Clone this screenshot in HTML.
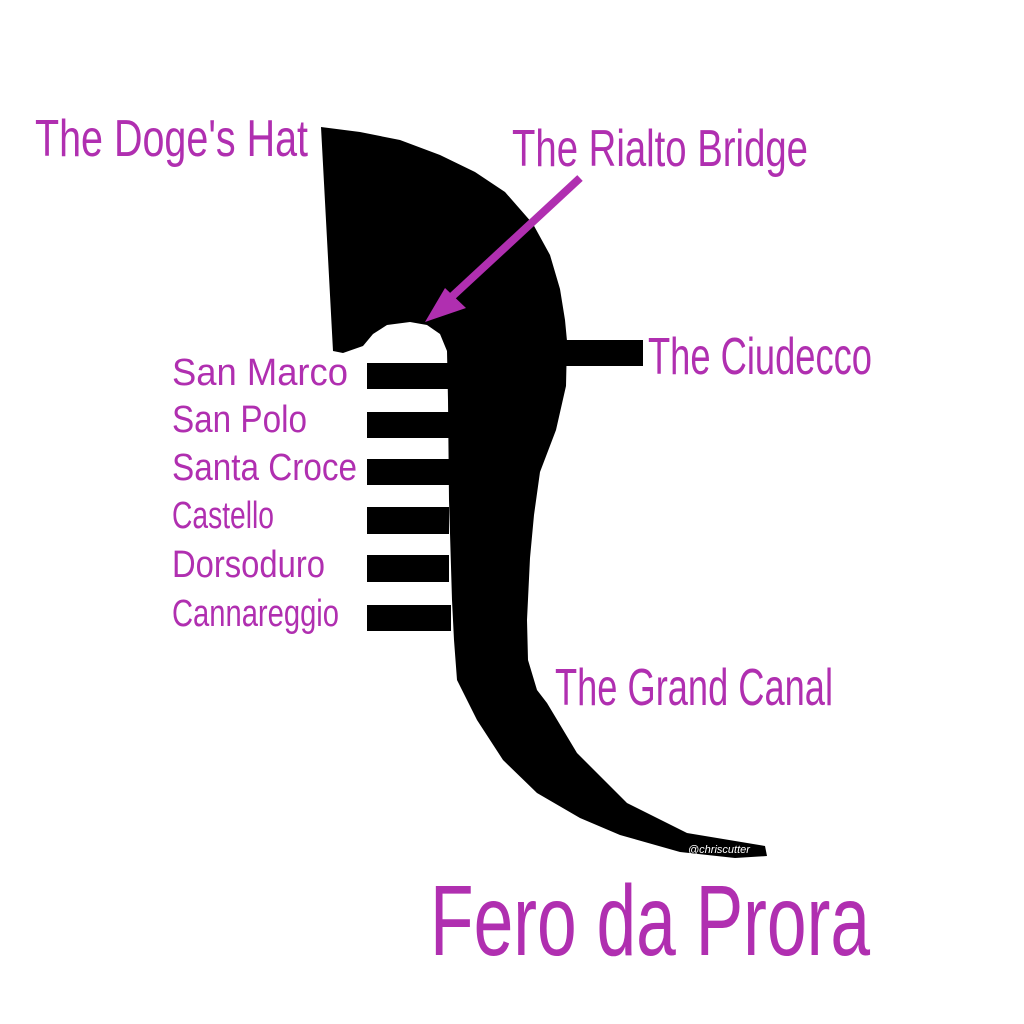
<!DOCTYPE html>
<html><head><meta charset="utf-8"><style>
html,body{margin:0;padding:0;background:#fff;}
svg{display:block;}
text{font-family:"Liberation Sans",sans-serif;fill:#b02fb0;}
</style></head><body>
<svg width="1024" height="1024" viewBox="0 0 1024 1024" xmlns="http://www.w3.org/2000/svg">
<rect width="1024" height="1024" fill="#fff"/>
<path d="M321,127 L360,132 L400,140 L440,155 L475,172 L505,192 L533,224 L550,255 L560,289 L565,320 L567,341 L566,386 L556,430 L540,472 L534,515 L530,558 L527,620 L528,660 L537,690 L547,703 L577,753 L627,803 L687,833 L765,846 L767,856 L735,858 L680,852 L620,835 L580,818 L537,793 L503,760 L477,720 L457,680 L454,640 L452,600 L449,500 L448,400 L447,351 L440,334 L427,325 L410,322 L387,325 L373,334 L363,346 L343,353 L333,351 Z" fill="#000"/>
<g fill="#000">
<rect x="367" y="363" width="82" height="26"/>
<rect x="367" y="412" width="82" height="26"/>
<rect x="367" y="459" width="82" height="26"/>
<rect x="367" y="507" width="82" height="27"/>
<rect x="367" y="555" width="82" height="27"/>
<rect x="367" y="605" width="84" height="26"/>
<rect x="560" y="340" width="83" height="26"/>
</g>
<line x1="580" y1="178" x2="445" y2="303" stroke="#b02fb0" stroke-width="8"/>
<polygon points="425,322 445,288 466,308" fill="#b02fb0"/>
<text x="688" y="853" font-size="11" fill="#fff" style="fill:#fff;font-style:italic">@chriscutter</text>
<text x="35" y="156" font-size="52" textLength="273" lengthAdjust="spacingAndGlyphs">The Doge's Hat</text>
<text x="512" y="166" font-size="52" textLength="296" lengthAdjust="spacingAndGlyphs">The Rialto Bridge</text>
<text x="648" y="374" font-size="52" textLength="224" lengthAdjust="spacingAndGlyphs">The Ciudecco</text>
<text x="555" y="705" font-size="52" textLength="278" lengthAdjust="spacingAndGlyphs">The Grand Canal</text>
<g font-size="38">
<text x="172" y="385" textLength="176" lengthAdjust="spacingAndGlyphs">San Marco</text>
<text x="172" y="432" textLength="135" lengthAdjust="spacingAndGlyphs">San Polo</text>
<text x="172" y="480" textLength="185" lengthAdjust="spacingAndGlyphs">Santa Croce</text>
<text x="172" y="528" textLength="102" lengthAdjust="spacingAndGlyphs">Castello</text>
<text x="172" y="577" textLength="153" lengthAdjust="spacingAndGlyphs">Dorsoduro</text>
<text x="172" y="626" textLength="167" lengthAdjust="spacingAndGlyphs">Cannareggio</text>
</g>
<text x="430" y="955" font-size="100" textLength="440" lengthAdjust="spacingAndGlyphs">Fero da Prora</text>
</svg>
</body></html>
